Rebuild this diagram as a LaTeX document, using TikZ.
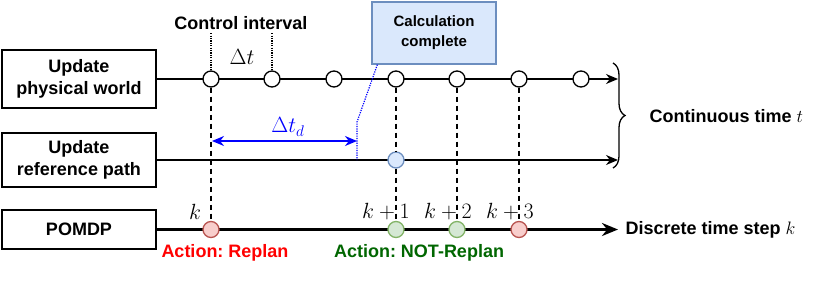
\RequirePackage{fix-cm}
\documentclass[tikz,border=0pt]{standalone}
\usepackage{amsmath}
\usepackage[no-math]{fontspec}
\setmainfont{Liberation Sans}
\frenchspacing
\usetikzlibrary{arrows.meta, positioning, calc, decorations.pathreplacing}
\definecolor{BlueFill}{HTML}{DAE8FC}
\definecolor{BlueEdge}{HTML}{6C8EBF}
\definecolor{RedFill}{HTML}{F8CECC}
\definecolor{RedEdge}{HTML}{B85450}
\definecolor{GreenFill}{HTML}{D5E8D4}
\definecolor{GreenEdge}{HTML}{82B366}
\definecolor{ActGreen}{HTML}{006600}
\definecolor{ActRed}{HTML}{FF0000}

\tikzset{
  procbox/.style={draw, line width=1.3pt, minimum width=154pt, align=center, inner sep=0pt,
    font=\bfseries\fontsize{18}{22}\selectfont},
  tick/.style={circle, draw, line width=1.3pt, fill=white, minimum size=16pt, inner sep=0pt},
  axis/.style={line width=1.3pt, -{Stealth[length=12pt, width=10pt]}},
  guide/.style={line width=1.2pt, dash pattern=on 5pt off 4pt},
  dots/.style={line width=1.2pt, dash pattern=on 1.2pt off 1.2pt},
  lbl/.style={font=\bfseries\fontsize{18}{22}\selectfont},
  mathlbl/.style={font=\fontsize{22}{26}\selectfont}
}

\begin{document}
\begin{tikzpicture}[x=1pt, y=-1pt]
      \useasboundingbox (0,0) rectangle (830,281);
      % Process boxes
      \node[procbox, minimum height=58pt] (phys) at (79,79) {Update\\physical world};
      \node[procbox, minimum height=54pt] (ref) at (79,160) {Update\\reference path};
      \node[procbox, minimum height=39pt] (pomdp) at (79,229.5) {POMDP};
      % Line ends
      \coordinate (physend) at (618,79);
      \coordinate (refend) at (618,160);
      \coordinate (pomdpend) at (618,229.5);
      \draw[axis] (phys.east) -- (physend);
      \draw[axis] (ref.east) -- (refend);
      \draw[line width=3pt, -{Stealth[length=16pt, width=13pt]}] (pomdp.east) -- (pomdpend);
      % Ticks on the continuous lines
      \foreach \x [count=\i] in {211, 272, 334, 396, 457, 519, 581} {
        \node[tick] (p\i) at (\x,79) {};
      }
      \node[tick, fill=BlueFill, draw=BlueEdge] (bref) at (396,160) {};
      % Ticks on the discrete line
      \node[tick, fill=RedFill, draw=RedEdge] (s0) at (211,229.5) {};
      \node[tick, fill=GreenFill, draw=GreenEdge] (s1) at (396,229.5) {};
      \node[tick, fill=GreenFill, draw=GreenEdge] (s2) at (457,229.5) {};
      \node[tick, fill=RedFill, draw=RedEdge] (s3) at (519,229.5) {};
      % Dashed guides
      \draw[guide] (p1) -- (s0);
      \draw[guide] (p4) -- (bref);
      \draw[guide] (bref) -- (s1);
      \draw[guide] (p5) -- (s2);
      \draw[guide] (p6) -- (s3);
      % Control interval
      \node[lbl] (ctrl) at (241,23) {Control interval};
      \draw[dots] (p1 |- ctrl.south) -- (p1);
      \draw[dots] (p2 |- ctrl.south) -- (p2);
      \node[mathlbl] (dt) at (242,57) {$\Delta t$};
      % Calculation complete
      \node[draw=BlueEdge, fill=BlueFill, line width=1.3pt, minimum width=124pt, minimum height=62pt,
        align=center, font=\bfseries\fontsize{15}{20}\selectfont] (calc) at (434,33) {Calculation\\complete};
      \coordinate (bend) at (357,122);
      \coordinate (done) at (357,160);
      \draw[dots, blue] ($(calc.south west)+(6,0)$) -- (bend) -- (done);
      % Delay
      \coordinate (dl) at (212,141);
      \coordinate (dr) at (357,141);
      \draw[blue, line width=1.3pt, {Stealth[length=12pt, width=10pt]}-{Stealth[length=12pt, width=10pt]}] (dl) -- (dr);
      \node[mathlbl, text=blue] (dtd) at (288,127) {$\Delta t_d$};
      % Brace
      \draw[line width=1.3pt, decorate, decoration={brace, amplitude=12pt}] (613,63) -- (613,168);
      \node[lbl, anchor=west] (cont) at (646,116) {Continuous time $t$};
      \node[lbl, anchor=west] (disc) at (622,229.5) {Discrete time step $k$};
      % Step labels
      \node[mathlbl] (k0) at (195,212) {$k$};
      \node[mathlbl] (k1) at (386,212) {$k+1$};
      \node[mathlbl] (k2) at (448,212) {$k+2$};
      \node[mathlbl] (k3) at (510,212) {$k+3$};
      % Actions
      \node[lbl, text=ActRed] (replan) at (225,253) {Action: Replan};
      \node[lbl, text=ActGreen] (keep) at (419,253) {Action: NOT-Replan};
    \end{tikzpicture}
\end{document}
